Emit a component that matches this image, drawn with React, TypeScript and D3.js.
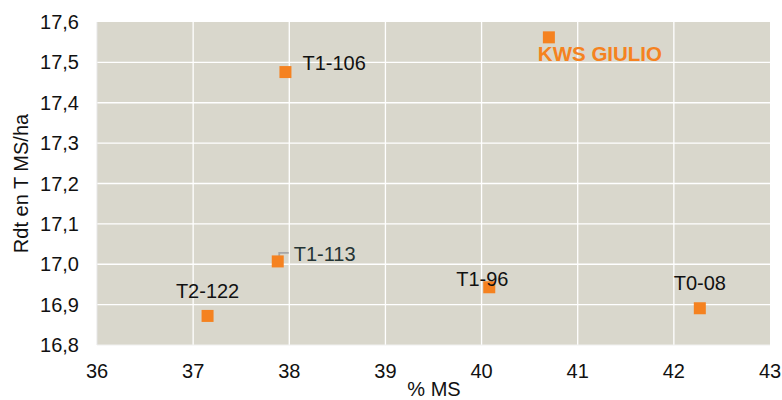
import React from "react";
import * as d3 from "d3";

// varieties: % MS (x) vs yield in T MS/ha (y)
const names = ["T1-106", "KWS GIULIO", "T1-113", "T2-122", "T1-96", "T0-08"];
const msValues = [37.96, 40.7, 37.88, 37.15, 40.08, 42.27];
const yieldValues = [17.476, 17.562, 17.007, 16.872, 16.943, 16.891];

const xTicks = [36, 37, 38, 39, 40, 41, 42, 43];
const yTicks = [16.8, 16.9, 17.0, 17.1, 17.2, 17.3, 17.4, 17.5, 17.6];

// label placement relative to the marker: [dx, dy, anchor]
const labelPlacement: [number, number, string][] = [
  [17, -2, "start"],
  [-11, 23.5, "start"],
  [16, 0, "start"],
  [0, -18, "middle"],
  [-33, -1, "start"],
  [0, -18.5, "middle"],
];

const W = 782;
const H = 400;
const margin = { top: 22, right: 12, bottom: 55, left: 97 };
const ORANGE = "#F58220";
const FONT = "'Liberation Sans', Arial, sans-serif";

export default function App() {
  const x = d3.scaleLinear().domain([36, 43]).range([margin.left, W - margin.right]);
  const y = d3.scaleLinear().domain([16.8, 17.6]).range([H - margin.bottom, margin.top]);
  const fmt = (v: number) => v.toFixed(1).replace(".", ",");

  return (
    <svg
      width={W}
      height={H}
      style={{ position: "absolute", left: 0, top: 0, fontFamily: FONT }}
    >
      <rect x={0} y={0} width={W} height={H} fill="#fff" />
      <rect
        x={x(36)}
        y={y(17.6)}
        width={x(43) - x(36)}
        height={y(16.8) - y(17.6)}
        fill="#D9D7CC"
      />
      {xTicks.slice(1, -1).map((t) => (
        <line key={"gx" + t} x1={x(t)} x2={x(t)} y1={y(17.6)} y2={y(16.8)} stroke="#fff" strokeWidth={1.3} />
      ))}
      {yTicks.slice(1, -1).map((t) => (
        <line key={"gy" + t} x1={x(36)} x2={x(43)} y1={y(t)} y2={y(t)} stroke="#fff" strokeWidth={1.3} />
      ))}
      <line x1={x(36)} x2={x(36)} y1={y(17.6)} y2={y(16.8)} stroke="#e6e6e6" strokeWidth={1} />
      <line x1={x(36)} x2={x(43)} y1={y(16.8)} y2={y(16.8)} stroke="#f0f0f0" strokeWidth={1} />

      {yTicks.map((t) => (
        <text key={"ty" + t} x={79} y={y(t)} dy="0.35em" textAnchor="end" fontSize={20} fill="#111">
          {fmt(t)}
        </text>
      ))}
      {xTicks.map((t) => (
        <text key={"tx" + t} x={x(t)} y={378} textAnchor="middle" fontSize={20} fill="#111">
          {t}
        </text>
      ))}
      <text x={434} y={396} textAnchor="middle" fontSize={20} fill="#111">
        % MS
      </text>
      <text
        transform={`translate(28,${(y(17.6) + y(16.8)) / 2}) rotate(-90)`}
        textAnchor="middle"
        fontSize={20}
        fill="#111"
      >
        Rdt en T MS/ha
      </text>

      {/* leader line for T1-113 */}
      <polyline
        points={`${x(msValues[2]) + 1.5},${y(yieldValues[2]) - 2} ${x(msValues[2]) + 1.5},${y(yieldValues[2]) - 8.5} ${x(msValues[2]) + 11},${y(yieldValues[2]) - 8.5}`}
        fill="none"
        stroke="#a6a6a6"
        strokeWidth={1.8}
      />

      {names.map((n, i) => (
        <rect
          key={"m" + n}
          x={x(msValues[i]) - 6}
          y={y(yieldValues[i]) - 6}
          width={12}
          height={12}
          fill={ORANGE}
        />
      ))}
      {names.map((n, i) => {
        const [dx, dy, anchor] = labelPlacement[i];
        const isKws = n === "KWS GIULIO";
        return (
          <text
            key={"l" + n}
            x={x(msValues[i]) + dx}
            y={y(yieldValues[i]) + dy}
            textAnchor={anchor}
            fontSize={isKws ? 20.5 : 20}
            fontWeight={isKws ? "bold" : "normal"}
            fill={isKws ? ORANGE : n === "T1-113" ? "#243434" : "#111"}
          >
            {n}
          </text>
        );
      })}
    </svg>
  );
}
